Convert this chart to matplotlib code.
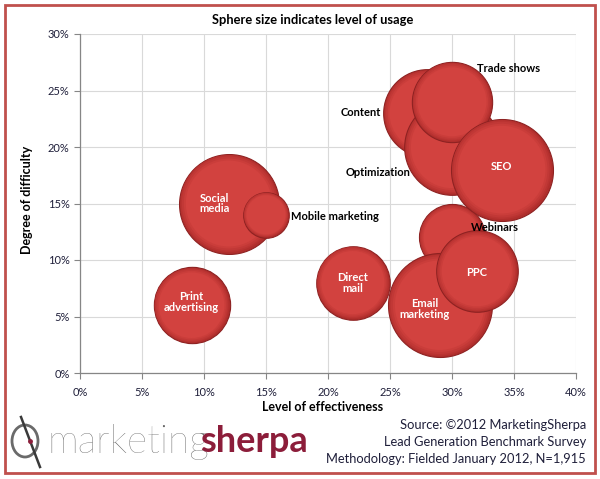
import matplotlib
matplotlib.use("Agg")
import matplotlib.pyplot as plt
from matplotlib.patches import Rectangle, Ellipse
from matplotlib.lines import Line2D
from matplotlib.colors import to_rgb
import numpy as np

plt.rcParams['font.family'] = ['Lato', 'DejaVu Sans']

# data (percent)
channels = ["Social\nmedia", "Mobile marketing", "Print\nadvertising", "Direct\nmail",
            "Webinars", "Email\nmarketing", "PPC", "Content", "Optimization",
            "Trade shows", "SEO"]
effectiveness = [12, 15, 9, 22, 30, 29, 32, 28, 30, 30, 34]
difficulty = [15, 14, 6, 8, 12, 6, 9, 23, 20, 24, 18]
usage = [48, 10, 28, 26, 21, 52, 32, 37, 44, 31, 50]

# label placement: offset in pixels (dx, dy up), alignment, inside bubble or not
label_style = {
    "Social\nmedia": (-14, 0, "center", True),
    "Mobile marketing": (25, -2, "left", False),
    "Print\nadvertising": (0, 3, "center", True),
    "Direct\nmail": (0, 0, "center", True),
    "Webinars": (19, 10, "left", False),
    "Email\nmarketing": (-15, -4, "center", True),
    "PPC": (0, -1, "center", True),
    "Content": (-46, 1, "right", False),
    "Optimization": (-42, -26, "right", False),
    "Trade shows": (25, 33, "left", False),
    "SEO": (0, 3, "center", True),
}

W, H = 600, 479
fig = plt.figure(figsize=(6, 4.79), dpi=100)
ax = fig.add_axes([80 / W, 1 - 373 / H, 496 / W, 339 / H])

edge_c = np.array(to_rgb('#b02e2c'))
mid_c = np.array(to_rgb('#d2423f'))
sizes = [107.8 * u for u in usage]
for i in range(len(channels)):
    z = 3 + i * 0.1
    ax.scatter(effectiveness[i], difficulty[i], s=sizes[i], color=edge_c,
               edgecolors='#8e2222', linewidths=0.8, zorder=z)
    # shading rings so the bubble reads as a sphere
    for j, frac in enumerate([0.97, 0.94, 0.9, 0.86]):
        t = (j + 1) / 4
        ax.scatter(effectiveness[i], difficulty[i], s=sizes[i] * frac ** 2,
                   color=edge_c + (mid_c - edge_c) * t, edgecolors='none',
                   zorder=z + 0.01 * (j + 1))

for i, name in enumerate(channels):
    dx, dy, ha, inside = label_style[name]
    ax.annotate(name, (effectiveness[i], difficulty[i]), xytext=(dx * 0.72, dy * 0.72),
                textcoords='offset points', ha=ha, va='center', fontsize=8,
                fontweight='bold', color='white' if inside else 'black',
                linespacing=1.0, zorder=10)

ax.set_xlim(0, 40)
ax.set_ylim(0, 30)
ax.set_xticks(np.arange(0, 41, 5))
ax.set_yticks(np.arange(0, 31, 5))
ax.set_xticklabels([f"{v}%" for v in range(0, 41, 5)])
ax.set_yticklabels([f"{v}%" for v in range(0, 31, 5)])
ax.tick_params(labelsize=8, colors='#868686', labelcolor='#1f1f3a', length=4, width=0.8,
               direction='out')
ax.grid(True, color='#d9d9d9', linewidth=0.8, zorder=0)
ax.set_axisbelow(True)
for s in ['top', 'right']:
    ax.spines[s].set_visible(False)
for s in ['left', 'bottom']:
    ax.spines[s].set_color('#868686')
    ax.spines[s].set_linewidth(0.9)
ax.tick_params(axis='x', pad=6)

fig.text(313 / W, 1 - 20 / H, "Sphere size indicates level of usage", ha='center',
         va='center', fontsize=9.3, fontweight='bold', color='black')
fig.text(27 / W, 1 - 200 / H, "Degree of difficulty", rotation=90, ha='center',
         va='center', fontsize=9, fontweight='bold', color='black')
fig.text(323 / W, 1 - 407 / H, "Level of effectiveness", ha='center', va='center',
         fontsize=9, fontweight='bold', color='black')

source_lines = ["Source: \u00a92012 MarketingSherpa", "Lead Generation Benchmark Survey",
                "Methodology: Fielded January 2012, N=1,915"]
for k, line in enumerate(source_lines):
    fig.text(586 / W, 1 - (425 + 17 * k) / H, line, ha='right', va='center',
             fontsize=9.3, color='#1f1f3a')

# logo
fig.text(47 / W, 1 - 442 / H, "marketing", ha='left', va='center', fontsize=28,
         fontweight='light', color='#5f5f5f')
fig.text(200 / W, 1 - 442 / H, "sherpa", ha='left', va='center', fontsize=26,
         fontweight='bold', color='#8c1d3a')
fig.add_artist(Ellipse((25 / W, 1 - 441 / H), 26 / W, 32 / H, transform=fig.transFigure,
                       fill=False, edgecolor='#6a6a6a', linewidth=2))
fig.add_artist(Line2D([21 / W, 40 / W], [1 - 417 / H, 1 - 467 / H], transform=fig.transFigure,
                      color='#3a3a3a', linewidth=1.8))
fig.add_artist(Line2D([30 / W], [1 - 441 / H], transform=fig.transFigure, marker='o',
                      markersize=2.5, color='#8c1d3a'))

# red frame around the chart
fig.add_artist(Rectangle((5 / W, 6 / H), 590 / W, 468 / H, transform=fig.transFigure,
                         fill=False, edgecolor='#c0504d', linewidth=2))

fig.savefig("out.png", dpi=100)
